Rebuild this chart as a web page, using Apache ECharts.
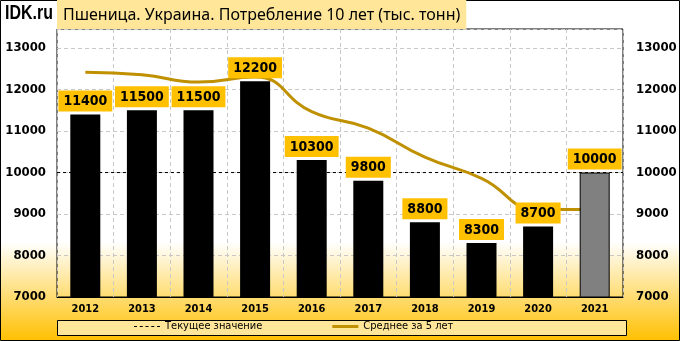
<!DOCTYPE html>
<html>
<head>
<meta charset="utf-8">
<script src="https://cdn.jsdelivr.net/npm/echarts@6.0.0/dist/echarts.min.js"></script>
<style>
  html, body { margin: 0; padding: 0; }
  #chart { width: 680px; height: 341px; }
</style>
</head>
<body>
<div id="chart"></div>
<script>
// Data
const years = ['2012', '2013', '2014', '2015', '2016', '2017', '2018', '2019', '2020', '2021'];
const consumption = [11400, 11500, 11500, 12200, 10300, 9800, 8800, 8300, 8700, 10000];
const avg5 = [12420, 12360, 12180, 12300, 11470, 11070, 10370, 9860, 9110, 9110];
const currentValue = 10000;

const chart = echarts.init(document.getElementById('chart'));

const bold = { fontFamily: 'DejaVu Sans Condensed, DejaVu Sans', fontWeight: 'bold', color: '#000' };

const barData = consumption.map((v, i) => {
    if (i === consumption.length - 1) {
        return { value: v, itemStyle: { color: '#808080', borderColor: '#000', borderWidth: 1 } };
    }
    return v;
});

// dashed legend icon: five short dashes in a 26x1 box
const dashIcon = 'path://M0,0h3v1h-3zM5.75,0h3v1h-3zM11.5,0h3v1h-3zM17.25,0h3v1h-3zM23,0h3v1h-3z';
const thickIcon = 'path://M0,0h26v3h-26z';

const option = {
    backgroundColor: {
        type: 'linear', x: 0, y: 0, x2: 0, y2: 1,
        colorStops: [
            { offset: 0, color: '#ffffff' },
            { offset: 0.71, color: '#ffffff' },
            { offset: 1, color: '#ffc000' }
        ]
    },
    animation: false,
    title: {
        text: 'Пшеница. Украина. Потребление 10 лет (тыс. тонн)',
        left: 57,
        top: 0,
        padding: [5, 6, 4, 6],
        backgroundColor: '#ffe699',
        textStyle: { fontFamily: 'Noto Sans', fontWeight: 'normal', fontSize: 16, lineHeight: 20, color: '#000' }
    },
    graphic: [
        {
            type: 'rect', z: -1, silent: true,
            shape: { x: 0.5, y: 0.5, width: 679, height: 340 },
            style: { fill: 'none', stroke: '#000', lineWidth: 1 }
        },
        {
            type: 'rect', z: 0, silent: true,
            shape: { x: 57.5, y: 320.5, width: 569, height: 15 },
            style: { fill: '#ffe699', stroke: '#000', lineWidth: 1 }
        },
        {
            type: 'text', left: 5, top: 3, scaleX: 0.76,
            style: { text: 'IDK.ru', font: 'bold 21px "Liberation Sans"', fill: '#000' }
        }
    ],
    legend: {
        data: [
            { name: 'Текущее значение', icon: dashIcon },
            { name: 'Среднее за 5 лет', icon: thickIcon }
        ],
        symbolKeepAspect: true,
        left: 134,
        top: 321,
        padding: 0,
        itemGap: 70,
        itemWidth: 26,
        itemHeight: 12,
        textStyle: { fontFamily: 'DejaVu Sans Condensed, DejaVu Sans', fontSize: 11, color: '#000' }
    },
    grid: {
        left: 57, right: 57, top: 29, bottom: 44,
        show: true, borderColor: '#000', borderWidth: 1, backgroundColor: 'transparent'
    },
    xAxis: [
        {
            type: 'category',
            data: years,
            axisLine: { lineStyle: { color: '#000' } },
            axisTick: { show: false },
            axisLabel: Object.assign({ fontSize: 11, margin: 7 }, bold),
            splitLine: { show: true, lineStyle: { color: '#c8c8c8', type: [4, 3] } }
        },
        { type: 'value', min: 0, max: 1, show: false }
    ],
    yAxis: [
        {
            type: 'value', min: 7000, max: 13460, interval: 1000,
            axisLine: { show: false }, axisTick: { show: false },
            axisLabel: Object.assign({ fontSize: 13, margin: 11, showMaxLabel: false, formatter: v => String(v) }, bold),
            splitLine: { show: true, lineStyle: { color: '#c8c8c8', type: [4, 3] } }
        },
        {
            type: 'value', min: 7000, max: 13460, interval: 1000, position: 'right',
            axisLine: { show: false }, axisTick: { show: false },
            axisLabel: Object.assign({ fontSize: 13, margin: 13, showMaxLabel: false, formatter: v => String(v) }, bold),
            splitLine: { show: false }
        }
    ],
    series: [
        {
            name: 'Текущее значение',
            type: 'line',
            xAxisIndex: 1,
            data: [[0, currentValue], [1, currentValue]],
            z: 1,
            symbol: 'none',
            silent: true,
            lineStyle: { color: '#000', width: 1, type: [3, 3] },
            itemStyle: { color: '#000' }
        },
        {
            name: 'Среднее за 5 лет',
            type: 'line',
            data: avg5,
            z: 2,
            smooth: 0.5,
            symbol: 'none',
            lineStyle: { color: '#bf9000', width: 3 },
            itemStyle: { color: '#bf9000' }
        },
        {
            name: 'Потребление',
            type: 'bar',
            data: barData,
            z: 3,
            barWidth: 30,
            itemStyle: { color: '#000' },
            label: Object.assign({
                show: true,
                position: 'top',
                distance: 3,
                fontSize: 14,
                backgroundColor: '#ffc000',
                padding: [4, 5, 3, 5]
            }, bold)
        }
    ]
};

chart.setOption(option);
</script>
</body>
</html>
